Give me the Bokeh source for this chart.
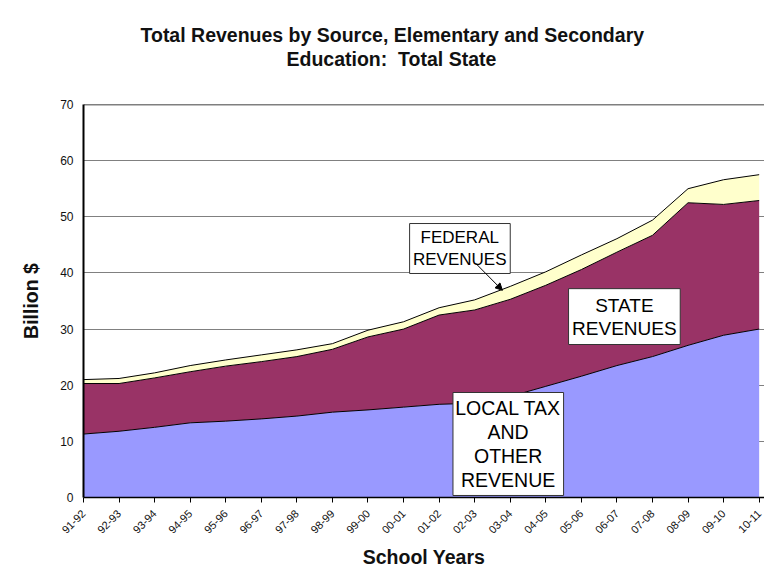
import numpy as np
from bokeh.plotting import figure
from bokeh.models import (ColumnDataSource, FixedTicker, Range1d, Title, Label,
                          BoxAnnotation, Arrow, NormalHead, Span)
from bokeh.embed import file_html
from bokeh.resources import INLINE

years = ["91-92", "92-93", "93-94", "94-95", "95-96", "96-97", "97-98", "98-99",
         "99-00", "00-01", "01-02", "02-03", "03-04", "04-05", "05-06", "06-07",
         "07-08", "08-09", "09-10", "10-11"]
local_rev = [11.3, 11.8, 12.5, 13.3, 13.6, 14.0, 14.5, 15.2, 15.6, 16.1,
             16.6, 16.8, 18.0, 19.8, 21.6, 23.5, 25.1, 27.1, 28.9, 30.0]
state_rev = [9.0, 8.5, 8.8, 9.1, 9.8, 10.2, 10.6, 11.2, 13.0, 13.9,
             15.9, 16.6, 17.3, 18.0, 19.0, 20.2, 21.6, 25.4, 23.3, 22.9]
federal_rev = [0.7, 0.9, 0.9, 1.1, 1.1, 1.2, 1.2, 1.0, 1.2, 1.3,
               1.3, 1.8, 2.3, 2.4, 2.6, 2.4, 2.7, 2.5, 4.4, 4.6]
y_ticks = [0, 10, 20, 30, 40, 50, 60, 70]

FONT = "Liberation Sans"
x = list(range(len(years)))
src = ColumnDataSource(dict(x=x, local=local_rev, state=state_rev, federal=federal_rev))

p = figure(frame_width=681, frame_height=393, output_backend="svg", toolbar_location=None,
           x_range=Range1d(0, len(years) - 1 + 0.15), y_range=Range1d(0, 70),
           min_border_left=83, min_border_right=0, min_border_top=104,
           min_border_bottom=60, background_fill_color="white",
           border_fill_color="white", outline_line_color=None)

p.varea_stack(["local", "state", "federal"], x="x", source=src,
              color=["#9999FF", "#993366", "#FFFFCC"])

tops = np.cumsum(np.array([local_rev, state_rev, federal_rev]), axis=0)
for t in tops:
    p.line(x, list(t), line_color="black", line_width=1)

p.add_layout(Span(location=70, dimension="width", line_color="black", line_width=1.5))

# axes
p.xaxis.ticker = FixedTicker(ticks=x)
p.xaxis.major_label_overrides = {i: s for i, s in enumerate(years)}
p.xaxis.major_label_orientation = np.pi / 4
p.xaxis.major_label_text_font = FONT
p.xaxis.major_label_text_font_size = "11px"
p.xaxis.major_label_text_color = "#111111"
p.xaxis.major_tick_out = 5
p.xaxis.major_tick_in = 0
p.xaxis.minor_tick_line_color = None
p.xaxis.axis_line_color = "black"
p.xaxis.axis_line_width = 1.5
p.xaxis.major_tick_line_color = "black"
p.xaxis.major_label_standoff = 9
p.xaxis.axis_label = "School Years"
p.xaxis.axis_label_text_font = FONT
p.xaxis.axis_label_text_font_style = "bold"
p.xaxis.axis_label_text_font_size = "19.5px"
p.xaxis.axis_label_text_color = "#111111"
p.xaxis.axis_label_standoff = 6

p.yaxis.ticker = FixedTicker(ticks=y_ticks)
p.yaxis.major_label_text_font = FONT
p.yaxis.major_label_text_font_size = "12px"
p.yaxis.major_label_text_color = "#111111"
p.yaxis.major_tick_out = 0
p.yaxis.major_tick_in = 0
p.yaxis.minor_tick_line_color = None
p.yaxis.axis_line_color = "black"
p.yaxis.axis_line_width = 2
p.yaxis.major_label_standoff = 10
p.yaxis.axis_label = "Billion $"
p.yaxis.axis_label_text_font = FONT
p.yaxis.axis_label_text_font_style = "bold"
p.yaxis.axis_label_text_font_size = "19.5px"
p.yaxis.axis_label_text_color = "#111111"
p.yaxis.axis_label_standoff = 15

p.xgrid.grid_line_color = None
p.ygrid.grid_line_color = "#808080"
p.ygrid.grid_line_width = 1

# titles: figure title outermost; first added title sits nearest the frame
p.title.text = "Total Revenues by Source, Elementary and Secondary"
p.title.align = "left"
p.title.offset = 57
p.title.text_font = FONT
p.title.text_font_size = "19.5px"
p.title.text_font_style = "bold"
p.title.text_color = "#111111"
p.title.standoff = 0
spacer = Title(text="\u00a0", text_font=FONT, text_font_size="19.5px", standoff=11)
p.add_layout(spacer, "above")
t2 = Title(text="Education:\u00a0 Total State", align="left", offset=203,
           text_font=FONT, text_font_size="19.5px", text_font_style="bold",
           text_color="#111111", standoff=0)
p.add_layout(t2, "above")

# annotation boxes
def box(l, r, t, b):
    p.add_layout(BoxAnnotation(left=l, right=r, top=t, bottom=b, fill_color="white",
                               fill_alpha=1, line_color="#333333", line_width=1,
                               line_alpha=1))

def lab(xc, yc, text, size, lh):
    p.add_layout(Label(x=xc, y=yc, text=text, text_align="center", text_baseline="middle",
                       text_font=FONT, text_font_size=size, text_color="black",
                       text_line_height=lh))

box(9.17, 12.0, 48.8, 39.9)
lab(10.58, 44.35, "FEDERAL\nREVENUES", "17px", 1.2)
p.add_layout(Arrow(x_start=11.03, y_start=41.7, x_end=11.78, y_end=36.9,
                   line_color="black", line_width=1,
                   end=NormalHead(size=7, fill_color="black", line_color="black")))

box(13.64, 16.78, 37.2, 27.25)
lab(15.21, 32.2, "STATE\nREVENUES", "19px", 1.1)

box(10.39, 13.5, 18.7, 0.36)
lab(11.94, 9.5, "LOCAL TAX\nAND\nOTHER\nREVENUE", "19.5px", 1.1)

open("out.html", "w").write(file_html(p, INLINE))
